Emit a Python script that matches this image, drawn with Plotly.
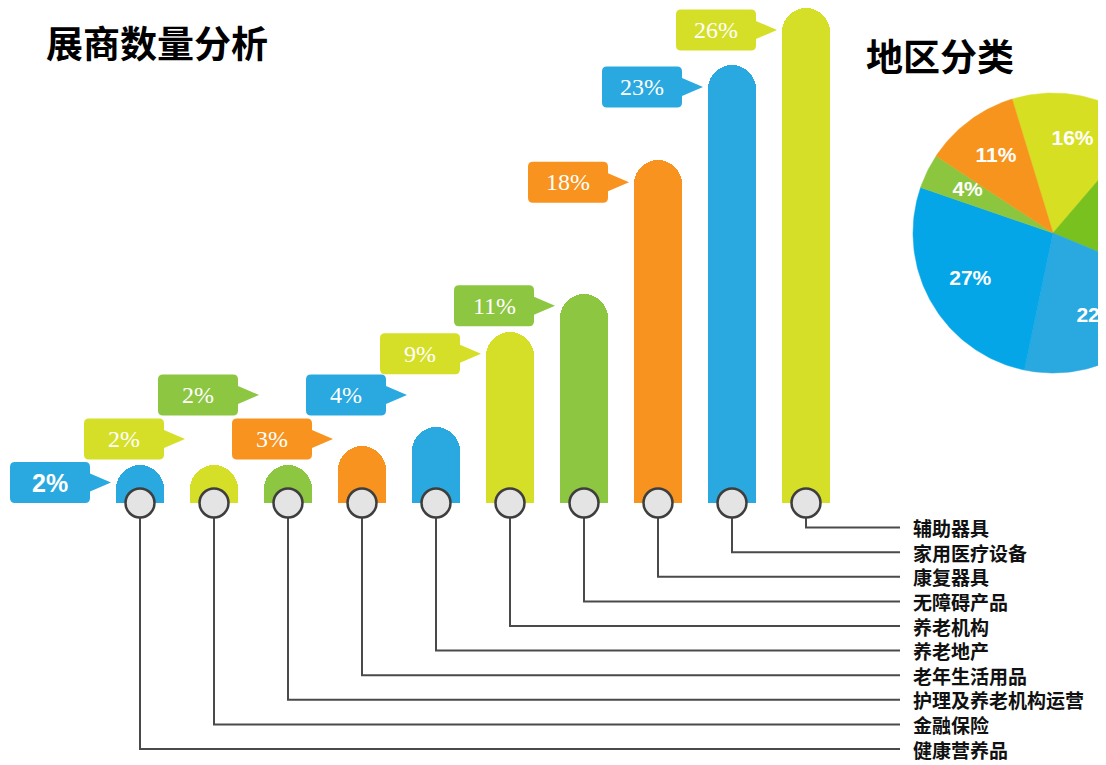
import math
import plotly.graph_objects as go

# ---------------- data ----------------
categories = ["健康营养品", "金融保险", "护理及养老机构运营", "老年生活用品", "养老地产",
              "养老机构", "无障碍产品", "康复器具", "家用医疗设备", "辅助器具"]
exhibitor_pct = [2, 2, 2, 3, 4, 9, 11, 18, 23, 26]

region_pct = [16, 20, 22, 27, 4, 11]

title_left = "展商数量分析"
title_right = "地区分类"

# ---------------- style ----------------
BLUE, YELLOW, GREEN, ORANGE = "#29A9E0", "#D5DF27", "#8DC641", "#F7931E"
bar_colors = [[BLUE, YELLOW, GREEN, ORANGE][i % 4] for i in range(len(exhibitor_pct))]
pie_colors = ["#D7DF23", "#79C11F", "#2AA9E0", "#05A6E8", "#8CC63F", "#F7941D"]
CJK = "Noto Sans CJK SC"

# screen geometry (the page body adds an 8 px margin, compensate for it)
OFF = 8
SW, SH = 1106, 765
W, H = SW - OFF, SH - OFF

def sx(px):  # screen x pixel -> figure pixel
    return px - OFF

def sy(py):  # screen y pixel -> figure pixel
    return py - OFF

X_FIRST, X_STEP = sx(140), 74      # pixel of first category, pixel step
BASE_PX, TOP_PX = sy(503), sy(8)   # baseline pixel, pixel of the max value
ppu = (BASE_PX - TOP_PX) / max(exhibitor_pct)   # pixels per percent
n = len(exhibitor_pct)
xs = list(range(n))

def px_to_x(px):
    return (px - X_FIRST) / X_STEP

fig = go.Figure()

# leader lines from each circle down to its label row
row_gap = 24.6
label_end_x = px_to_x(sx(900))
lx, ly = [], []
for i in xs:
    row_y = -row_gap * (n - i) / ppu
    lx += [i, i, label_end_x, None]
    ly += [0, row_y, row_y, None]
fig.add_trace(go.Scatter(x=lx, y=ly, mode="lines", line=dict(color="#4A4A4A", width=2),
                         hoverinfo="skip", showlegend=False))

# bars
fig.add_trace(go.Bar(x=xs, y=exhibitor_pct, width=48 / X_STEP,
                     marker=dict(color=bar_colors, cornerradius="50%", line=dict(width=0)),
                     hoverinfo="skip", showlegend=False))

# circles on the baseline
fig.add_trace(go.Scatter(x=xs, y=[0] * n, mode="markers",
                         marker=dict(size=29, color="#E4E4E4", line=dict(color="#3E3E3E", width=2.5)),
                         hoverinfo="skip", showlegend=False))

# category labels
for i, name in enumerate(categories):
    fig.add_annotation(x=sx(911) / W, xref="paper", y=-row_gap * (n - i) / ppu, yref="y",
                       text="<b>%s</b>" % name, showarrow=False, xanchor="left", yanchor="middle",
                       font=dict(family=CJK, size=19, color="#111111"))

# callouts (speech bubbles)
L, R, HH, RAD, TIP, PB = -130, -50, 20.5, 5, -29, 9
bubble = ("M {a},{b} L {c},{b} Q {R},{b} {R},{d} L {R},{pb} L {T},0 L {R},{mpb} L {R},{e} "
          "Q {R},{hh} {c},{hh} L {a},{hh} Q {L},{hh} {L},{e} L {L},{d} Q {L},{b} {a},{b} Z").format(
    a=L + RAD, b=-HH, c=R - RAD, d=-HH + RAD, e=HH - RAD, R=R, L=L, hh=HH, pb=-PB, mpb=PB, T=TIP)

heights = [v * ppu for v in exhibitor_pct]
centers = []
for i, h in enumerate(heights):
    c = h - 22
    if i == 0:
        c = max(c, HH)
    else:
        c = max(c, heights[i - 1] + 26)
        if abs(c - centers[-1]) < HH + PB:
            c = centers[-1] + 2 * HH + 3
    centers.append(c)

for i, (v, c) in enumerate(zip(exhibitor_pct, centers)):
    cy = c / ppu
    fig.add_shape(type="path", xref="x", yref="y", xsizemode="pixel", ysizemode="pixel",
                  xanchor=i, yanchor=cy, path=bubble, fillcolor=bar_colors[i], line=dict(width=0),
                  layer="above")
    if i == 0:
        f = dict(family="Liberation Sans", size=25, color="white")
        txt = "<b>%d%%</b>" % v
    else:
        f = dict(family="Liberation Serif", size=24, color="white")
        txt = "%d%%" % v
    fig.add_annotation(x=i, y=cy, xref="x", yref="y", xshift=(L + R) / 2, text=txt,
                       showarrow=False, font=f, xanchor="center", yanchor="middle")

# ---------------- pie (drawn with equal pixel scale on overlay axes) ----------------
PIE_CX, PIE_CY, PIE_R = sx(1053), sy(233), 140
START_DEG = -17
LABEL_R = 0.68
total = sum(region_pct)
ang = START_DEG
for v, col in zip(region_pct, pie_colors):
    span = v / total * 360
    steps = max(int(span), 2)
    px_, py_ = [0], [0]
    for k in range(steps + 1):
        t = math.radians(ang + span * k / steps)
        px_.append(math.sin(t))
        py_.append(math.cos(t))
    px_.append(0); py_.append(0)
    fig.add_trace(go.Scatter(x=px_, y=py_, xaxis="x2", yaxis="y2", mode="lines", fill="toself",
                             fillcolor=col, line=dict(color=col, width=0.5),
                             hoverinfo="skip", showlegend=False))
    mid = math.radians(ang + span / 2)
    lxp, lyp = LABEL_R * math.sin(mid), LABEL_R * math.cos(mid)
    # only label slices whose label centre falls inside the visible page (the pie is cropped)
    if PIE_CX + lxp * PIE_R < W:
        fig.add_trace(go.Scatter(x=[lxp], y=[lyp], xaxis="x2", yaxis="y2",
                                 mode="text", text=["<b>%d%%</b>" % v],
                                 textfont=dict(family="Liberation Sans", size=21, color="white"),
                                 hoverinfo="skip", showlegend=False))
    ang += span

# titles
fig.add_annotation(x=sx(44) / W, y=1 - sy(42) / H, xref="paper", yref="paper", text="<b>%s</b>" % title_left,
                   showarrow=False, xanchor="left", yanchor="middle",
                   font=dict(family=CJK, size=37, color="#000000"))
fig.add_annotation(x=sx(864) / W, y=1 - sy(55) / H, xref="paper", yref="paper", text="<b>%s</b>" % title_right,
                   showarrow=False, xanchor="left", yanchor="middle",
                   font=dict(family=CJK, size=37, color="#000000"))

hidden = dict(visible=False, showgrid=False, zeroline=False, fixedrange=True)
fig.update_layout(
    width=W, height=H, margin=dict(l=0, r=0, t=0, b=0),
    paper_bgcolor="white", plot_bgcolor="rgba(0,0,0,0)",
    showlegend=False, bargap=0,
    xaxis=dict(range=[px_to_x(0), px_to_x(W)], **hidden),
    yaxis=dict(range=[-(H - BASE_PX) / ppu, BASE_PX / ppu], **hidden),
    xaxis2=dict(range=[-PIE_CX / PIE_R, (W - PIE_CX) / PIE_R], overlaying="x", anchor="y2", **hidden),
    yaxis2=dict(range=[-(H - PIE_CY) / PIE_R, PIE_CY / PIE_R], overlaying="y", anchor="x2", **hidden),
)

fig.write_html("out.html")
